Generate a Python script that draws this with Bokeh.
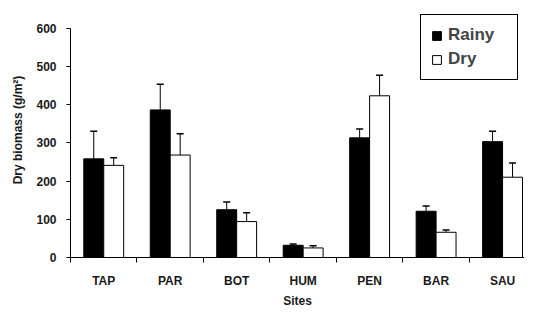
import numpy as np
from bokeh.plotting import figure
from bokeh.models import (ColumnDataSource, FixedTicker, Whisker, TeeHead, Legend, LegendItem, Range1d)
from bokeh.embed import file_html
from bokeh.resources import INLINE

sites = ["TAP", "PAR", "BOT", "HUM", "PEN", "BAR", "SAU"]
rainy = [258, 386, 125, 32, 313, 121, 303]
rainy_err = [72, 67, 20, 3, 23, 14, 27]
dry = [241, 268, 94, 25, 423, 66, 210]
dry_err = [20, 56, 23, 6, 54, 6, 37]
y_ticks = [0, 100, 200, 300, 400, 500, 600]

FONT = "Liberation Sans"
n = len(sites)
centers = np.arange(n) + 0.5
off = 0.15
bw = 0.3

src_r = ColumnDataSource(dict(x=centers - off, top=rainy, up=np.array(rainy) + np.array(rainy_err), lo=rainy))
src_d = ColumnDataSource(dict(x=centers + off, top=dry, up=np.array(dry) + np.array(dry_err), lo=dry))

p = figure(width=524, height=310, output_backend="svg", toolbar_location=None,
           x_range=Range1d(0, 6.83), y_range=Range1d(0, 667),
           min_border_left=70, min_border_right=0, min_border_top=2, min_border_bottom=48)
p.outline_line_color = None
p.xgrid.grid_line_color = None
p.ygrid.grid_line_color = None

r1 = p.vbar(x="x", top="top", width=bw, source=src_r, fill_color="black", line_color="black")
r2 = p.vbar(x="x", top="top", width=bw, source=src_d, fill_color="white", line_color="black")

for src in (src_r, src_d):
    w = Whisker(base="x", upper="up", lower="lo", source=src, dimension="height",
                line_color="black", line_width=1,
                upper_head=TeeHead(size=7, line_color="black", line_width=1.5), lower_head=None)
    p.add_layout(w)

# axes
p.xaxis.ticker = FixedTicker(ticks=list(centers), minor_ticks=list(np.arange(n + 1)))
p.xaxis.major_label_overrides = {float(c): s for c, s in zip(centers, sites)}
p.xaxis.major_tick_out = 0
p.xaxis.major_tick_in = 0
p.xaxis.minor_tick_out = 5
p.xaxis.minor_tick_in = 0
p.xaxis.major_label_standoff = 11
p.xaxis.axis_label = "Sites"
p.xaxis.axis_label_standoff = 3

p.yaxis.ticker = FixedTicker(ticks=y_ticks)
p.yaxis.bounds = (0, 600)
p.yaxis.major_tick_out = 4
p.yaxis.major_tick_in = 0
p.yaxis.major_label_standoff = 10
p.yaxis.axis_label = "Dry biomass (g/m²)"
p.yaxis.axis_label_standoff = 8

for ax in (p.xaxis[0], p.yaxis[0]):
    ax.axis_line_color = "black"
    ax.major_tick_line_color = "black"
    ax.major_label_text_font = FONT
    ax.major_label_text_font_style = "bold"
    ax.major_label_text_font_size = "12px"
    ax.major_label_text_color = "#1a1a1a"
    ax.axis_label_text_font = FONT
    ax.axis_label_text_font_style = "bold"
    ax.axis_label_text_font_size = "12px"
    ax.axis_label_text_color = "#1a1a1a"
p.xaxis.minor_tick_line_color = "black"
p.yaxis.minor_tick_line_color = None

legend = Legend(items=[LegendItem(label="Rainy", renderers=[r1]), LegendItem(label="Dry", renderers=[r2])],
                location=(350, 177))
legend.border_line_color = "black"
legend.border_line_alpha = 1
legend.border_line_width = 1
legend.background_fill_alpha = 1
legend.label_text_font = FONT
legend.label_text_font_style = "bold"
legend.label_text_font_size = "17px"
legend.glyph_width = 11
legend.glyph_height = 11
legend.label_standoff = 6
legend.label_width = 59
legend.padding = 10
legend.spacing = 4
legend.margin = 0
legend.label_height = 16
p.add_layout(legend, "center")

open("out.html", "w").write(file_html(p, INLINE))
